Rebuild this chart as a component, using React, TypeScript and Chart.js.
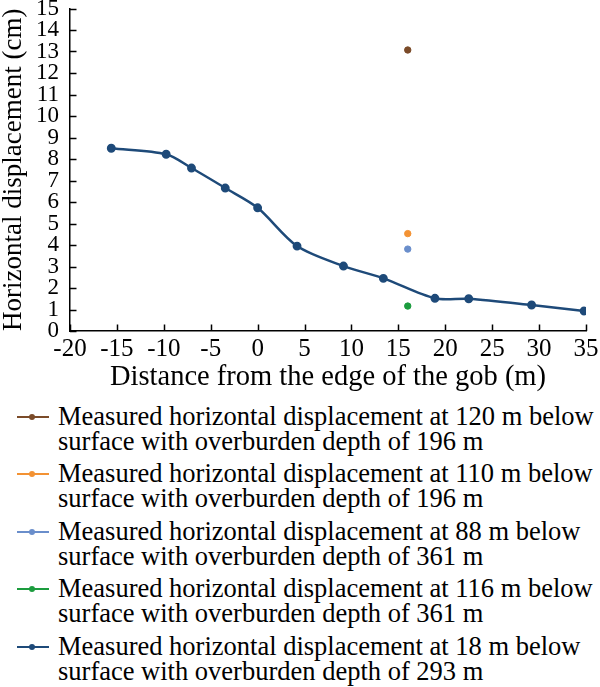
import React, { useEffect, useRef } from "react";
import { Chart, registerables } from "chart.js";
Chart.register(...registerables);

const lineX = [-15.6, -9.75, -7.05, -3.45, 0, 4.2, 9.15, 13.4, 18.9, 22.5, 29.2, 34.8];
const lineY = [8.5, 8.22, 7.58, 6.65, 5.73, 3.95, 3.02, 2.45, 1.52, 1.5, 1.21, 0.93];
const pointX = [16, 16, 16, 16];
const pointY = [13.07, 4.53, 3.81, 1.16];
const seriesLines1 = [
  "Measured horizontal displacement at 120 m below",
  "Measured horizontal displacement at 110 m below",
  "Measured horizontal displacement at 88 m below",
  "Measured horizontal displacement at 116 m below",
  "Measured horizontal displacement at 18 m below",
];
const seriesLines2 = [
  "surface with overburden depth of 196 m",
  "surface with overburden depth of 196 m",
  "surface with overburden depth of 361 m",
  "surface with overburden depth of 361 m",
  "surface with overburden depth of 293 m",
];
const colors = ["#7b4b29", "#f39233", "#6a8ecb", "#1c9c3e", "#1e4a79"];
const xMin = -20, xMax = 35, xStep = 5;
const yMin = 0, yMax = 15, yStep = 1;
const xTitle = "Distance from the edge of the gob (m)";
const yTitle = "Horizontal displacement (cm)";
const FONT = "'Liberation Serif', 'Times New Roman', serif";

const innerTicks = {
  id: "innerTicks",
  afterDraw(chart: any) {
    const ctx = chart.ctx;
    const xs = chart.scales.x;
    const ys = chart.scales.y;
    ctx.save();
    ctx.strokeStyle = "#000";
    ctx.lineWidth = 1.5;
    ctx.beginPath();
    xs.ticks.forEach((t: any) => {
      const px = Math.round(xs.getPixelForValue(t.value)) + 0.5;
      ctx.moveTo(px, ys.bottom);
      ctx.lineTo(px, ys.bottom - 6.5);
    });
    ys.ticks.forEach((t: any) => {
      const py = Math.round(ys.getPixelForValue(t.value)) + 0.5;
      ctx.moveTo(xs.left, py);
      ctx.lineTo(xs.left + 6.5, py);
    });
    ctx.stroke();
    ctx.restore();
  },
};

export default function App() {
  const ref = useRef<HTMLCanvasElement>(null);
  useEffect(() => {
    if (!ref.current) return;
    const datasets: any[] = [];
    for (let i = 0; i < 4; i++) {
      datasets.push({
        type: "scatter",
        label: seriesLines1[i],
        data: [{ x: pointX[i], y: pointY[i] }],
        backgroundColor: colors[i],
        borderColor: colors[i],
        pointRadius: 3.2,
        showLine: false,
      });
    }
    datasets.push({
      type: "line",
      label: seriesLines1[4],
      data: lineX.map((x, i) => ({ x, y: lineY[i] })),
      borderColor: colors[4],
      backgroundColor: colors[4],
      borderWidth: 2.5,
      pointRadius: 3.2,
      tension: 0.3,
      fill: false,
    });
    const chart = new Chart(ref.current, {
      type: "scatter",
      data: { datasets },
      plugins: [innerTicks],
      options: {
        animation: false,
        responsive: false,
        layout: { padding: { top: 8.5, right: 14, left: 0, bottom: 0 } },
        plugins: { legend: { display: false }, tooltip: { enabled: false } },
        scales: {
          x: {
            type: "linear",
            min: xMin,
            max: xMax,
            grid: { display: false, drawTicks: false },
            border: { display: true, color: "#000", width: 1.5 },
            ticks: { stepSize: xStep, color: "#000", font: { family: FONT, size: 25 }, padding: 3, maxRotation: 0, autoSkip: false },
            title: { display: true, text: xTitle, color: "#000", font: { family: FONT, size: 28.5, lineHeight: 1.2 }, padding: { top: 0, bottom: 5 } },
            afterFit: (s: any) => { s.height = 69; s.paddingLeft = 0; s.paddingRight = 0; },
          },
          y: {
            type: "linear",
            min: yMin,
            max: yMax,
            grid: { display: false, drawTicks: false },
            border: { display: true, color: "#000", width: 1.5 },
            ticks: { stepSize: yStep, color: "#000", font: { family: FONT, size: 23 }, padding: 11, autoSkip: false },
            title: { display: true, text: yTitle, color: "#000", font: { family: FONT, size: 27, lineHeight: 1.0 }, padding: 0 },
            afterFit: (s: any) => { s.width = 70; s.paddingTop = 0; s.paddingBottom = 0; },
          },
        },
      },
    });
    return () => chart.destroy();
  }, []);

  return (
    <div style={{ position: "absolute", left: 0, top: 0, width: 600, height: 687, background: "#fff", overflow: "hidden" }}>
      <canvas ref={ref} width={600} height={400} style={{ display: "block", width: 600, height: 400 }} />
      {seriesLines1.map((l1, i) => (
        <div key={i} style={{ position: "absolute", left: 0, top: 403.6 + i * 57.5, width: 600, height: 50 }}>
          <div style={{ position: "absolute", left: 17, top: 12, width: 32, height: 2, background: colors[i] }} />
          <div style={{ position: "absolute", left: 29, top: 10, width: 6, height: 6, borderRadius: "50%", background: colors[i] }} />
          <div style={{ position: "absolute", left: 58, top: 0, fontFamily: FONT, fontSize: 26.5, lineHeight: "25px", color: "#000", whiteSpace: "nowrap" }}>
            <div>{l1}</div>
            <div>{seriesLines2[i]}</div>
          </div>
        </div>
      ))}
    </div>
  );
}
